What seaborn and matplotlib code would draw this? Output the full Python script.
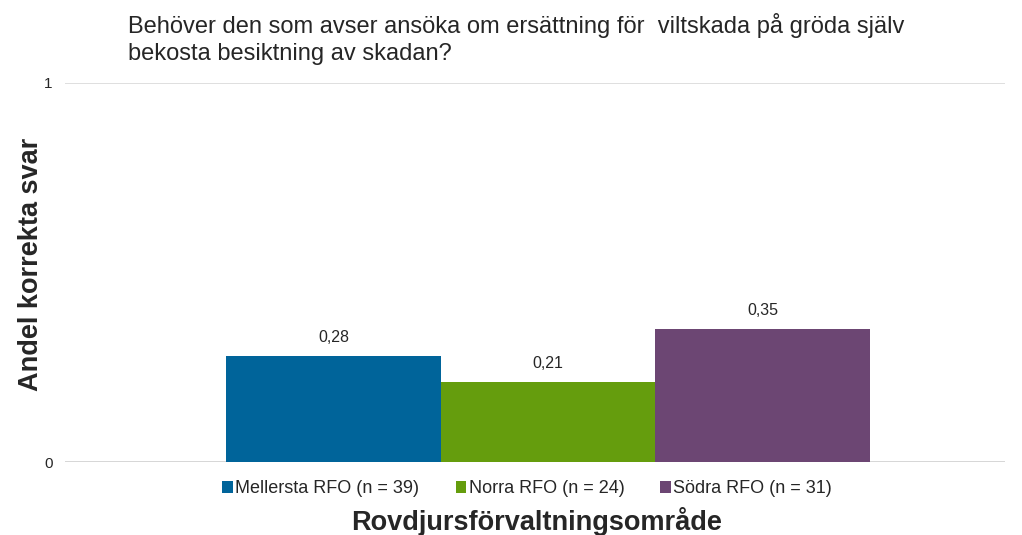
import matplotlib
matplotlib.use("Agg")
import matplotlib.pyplot as plt
import seaborn as sns
import pandas as pd

# data
groups = ["Mellersta RFO (n = 39)", "Norra RFO (n = 24)", "Södra RFO (n = 31)"]
andel = [0.28, 0.21, 0.35]
colors = ["#00649A", "#659D0D", "#6C4673"]

title = ("Behöver den som avser ansöka om ersättning för  viltskada på gröda själv\n"
         "bekosta besiktning av skadan?")

sns.set_style("white")
plt.rcParams["font.family"] = ["Liberation Sans", "DejaVu Sans"]

df = pd.DataFrame({"x": [""] * len(groups), "grupp": groups, "andel": andel})

fig = plt.figure(figsize=(10.22, 5.35), dpi=100)
ax = fig.add_axes([0.0636, 0.1364, 0.9194, 0.7086])

sns.barplot(data=df, x="x", y="andel", hue="grupp", palette=colors,
            width=0.685, saturation=1, linewidth=0, ax=ax, legend=True)

for cont in ax.containers:
    ax.bar_label(cont, labels=[f"{v:.2f}".replace(".", ",") for v in cont.datavalues],
                 padding=8, fontsize=11.5)

ax.set_ylim(0, 1)
ax.set_xlim(-0.514, 0.486)
ax.set_yticks([0, 1])
ax.set_yticklabels(["0", "1"], fontsize=11)
ax.tick_params(axis="y", length=0, pad=9)
ax.set_xticks([])
ax.yaxis.grid(True, color="#d9d9d9", linewidth=1.2)
ax.axhline(0, color="#c8c8c8", linewidth=1.2, zorder=0.5)
ax.set_axisbelow(True)
for s in ax.spines.values():
    s.set_visible(False)

ax.set_xlabel("")
ax.set_ylabel("")
fig.text(0.525, 0.026, "Rovdjursförvaltningsområde", fontsize=19.5, fontweight="bold",
         ha="center", va="center")
fig.text(0.03, 0.505, "Andel korrekta svar", fontsize=19.5, fontweight="bold",
         rotation=90, ha="center", va="center")

leg = ax.legend(loc="upper center", bbox_to_anchor=(0.492, -0.005), ncol=3, frameon=False,
                fontsize=13, handlelength=0.6, handleheight=0.6, handletextpad=0.12,
                columnspacing=2.0)

fig.text(0.125, 0.976, title, fontsize=17, ha="left", va="top", linespacing=1.32)

fig.savefig("out.png", dpi=100)
